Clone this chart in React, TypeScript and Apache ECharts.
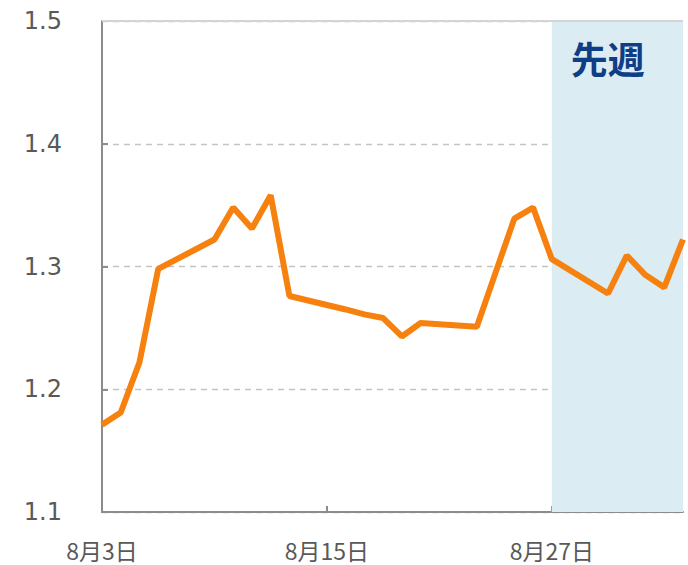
import React, { useEffect, useRef } from "react";
import * as echarts from "echarts";

const days: string[] = [
  "8月3日","8月4日","8月5日","8月6日","8月7日","8月8日","8月9日","8月10日",
  "8月11日","8月12日","8月13日","8月14日","8月15日","8月16日","8月17日","8月18日",
  "8月19日","8月20日","8月21日","8月22日","8月23日","8月24日","8月25日","8月26日",
  "8月27日","8月28日","8月29日","8月30日","8月31日","9月1日","9月2日","9月3日",
];

const values: (number | null)[] = [
  1.171, 1.181, 1.222, 1.298, null, null, 1.322, 1.348,
  1.331, 1.358, 1.276, null, null, 1.265, 1.261, 1.258,
  1.243, 1.254, null, null, 1.251, 1.295, 1.339, 1.348,
  1.306, null, null, 1.278, 1.309, 1.293, 1.283, 1.322,
];

const yTicks = [1.1, 1.2, 1.3, 1.4, 1.5];
const shadeFrom = "8月27日";
const shadeTo = "9月3日";
const shadeLabel = "先週";

export default function App() {
  const ref = useRef<HTMLDivElement>(null);
  useEffect(() => {
    if (!ref.current) return;
    const chart = echarts.init(ref.current, null, { renderer: "svg" });
    chart.setOption({
      animation: false,
      backgroundColor: "#ffffff",
      grid: { left: 102, right: 5, top: 21, bottom: 53 },
      xAxis: {
        type: "category",
        data: days,
        boundaryGap: false,
        axisLine: { lineStyle: { color: "#8c8c8c", width: 2 } },
        axisTick: { inside: true, interval: 11, length: 6, lineStyle: { color: "#8c8c8c", width: 2 } },
        axisLabel: {
          interval: 11,
          margin: 26,
          fontSize: 23,
          color: "#595959",
          fontFamily: "Noto Sans CJK JP",
        },
        splitLine: { show: false },
      },
      yAxis: {
        type: "value",
        min: yTicks[0],
        max: yTicks[yTicks.length - 1],
        interval: 0.1,
        axisLine: { show: true, lineStyle: { color: "#8c8c8c", width: 2 } },
        axisTick: { show: true, inside: true, length: 6, lineStyle: { color: "#8c8c8c", width: 2 } },
        axisLabel: {
          margin: 40,
          fontSize: 24,
          color: "#595959",
          fontFamily: "DejaVu Sans",
          formatter: (v: number) => v.toFixed(1),
        },
        splitLine: {
          show: true,
          lineStyle: { color: "#c4c4c4", type: [6, 5], width: 1.3 },
        },
      },
      graphic: [
        {
          type: "line",
          shape: { x1: 102, y1: 21, x2: 683, y2: 21 },
          style: { stroke: "#d4d4d4", lineWidth: 2 },
          z: 10,
        },
      ],
      series: [
        {
          type: "line",
          data: values,
          connectNulls: true,
          symbol: "none",
          lineStyle: { color: "#F7810F", width: 6 },
          markArea: {
            silent: true,
            itemStyle: { color: "#DBECF3" },
            label: {
              show: true,
              position: "insideTopLeft",
              offset: [14, 13],
              formatter: shadeLabel,
              fontSize: 37,
              fontWeight: "bold",
              color: "#0F3D86",
              fontFamily: "Noto Sans CJK JP",
            },
            data: [[{ xAxis: shadeFrom }, { xAxis: shadeTo }]],
          },
        },
      ],
    });
    return () => chart.dispose();
  }, []);
  return (
    <div
      ref={ref}
      style={{ position: "fixed", left: 0, top: 0, width: 688, height: 565 }}
    />
  );
}
